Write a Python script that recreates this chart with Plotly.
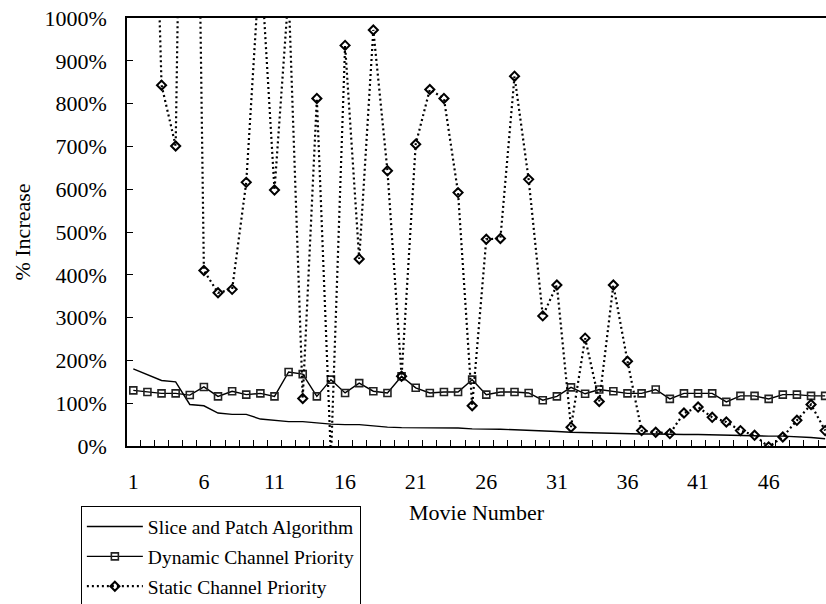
import plotly.graph_objects as go

movies = list(range(1, 51))
tick_labels = [1, 6, 11, 16, 21, 26, 31, 36, 41, 46]

slice_patch = [180, 167, 153, 150, 97, 94, 77, 74, 74, 63,
               60, 57, 57, 54, 51, 50, 50, 47, 44, 43,
               43, 43, 43, 42, 40, 40, 39, 38, 37, 36,
               34, 32, 31, 30, 30, 29, 28, 28, 27, 27,
               27, 26, 26, 25, 24, 23, 23, 22, 20, 17]

dynamic_priority = [130, 126, 123, 123, 119, 138, 116, 128, 120, 123,
                    116, 173, 168, 116, 155, 124, 147, 128, 124, 163,
                    136, 124, 126, 126, 155, 120, 126, 126, 124, 107,
                    116, 137, 122, 132, 128, 123, 123, 132, 110, 123,
                    123, 123, 103, 117, 117, 110, 120, 120, 117, 117]

static_priority = [1500, 2000, 843, 701, 2800, 410, 358, 366, 616, 1150,
                   598, 1060, 111, 812, -30, 936, 437, 972, 643, 163,
                   705, 833, 812, 592, 94, 483, 485, 864, 623, 304,
                   376, 44, 252, 104, 376, 198, 36, 32, 29, 77,
                   91, 67, 56, 36, 25, -2, 21, 60, 97, 36]

y_ticks = list(range(0, 1001, 100))
y_tick_text = [f"{v}%" for v in y_ticks]

FONT = "Liberation Serif, Times New Roman, serif"
FS = 22

fig = go.Figure()
fig.add_trace(go.Scatter(
    x=movies, y=slice_patch, mode="lines", name="Slice and Patch Algorithm",
    line=dict(color="black", width=1.4), legendgroup="a"))
fig.add_trace(go.Scatter(
    x=movies, y=dynamic_priority, mode="lines+markers", name="Dynamic Channel Priority",
    line=dict(color="black", width=1.4), legendgroup="b",
    marker=dict(symbol="square-open", size=7, color="#222", line=dict(width=1.6))))
fig.add_trace(go.Scatter(
    x=movies, y=static_priority, mode="lines+markers", name="Static Channel Priority",
    line=dict(color="black", width=2.2, dash="2px,3px"), legendgroup="c",
    marker=dict(symbol="diamond-open", size=7, color="black", line=dict(width=2))))

xr = [0.554, 50.06]
fig.update_layout(
    width=826, height=604,
    margin=dict(l=127, r=0, t=17.5, b=157.5, autoexpand=False),
    paper_bgcolor="white", plot_bgcolor="white",
    font=dict(family=FONT, size=FS, color="black"),
    showlegend=True,
    legend=dict(x=-0.066, y=-0.141, xanchor="left", yanchor="top",
                bgcolor="white", bordercolor="black", borderwidth=1,
                font=dict(family=FONT, size=19.5, color="black"),
                itemwidth=56, tracegroupgap=1.5),
    xaxis=dict(range=xr, showgrid=False, zeroline=False,
               showline=True, linecolor="black", linewidth=2, mirror=True,
               tickvals=[m + 0.5 for m in movies], ticks="inside", ticklen=6,
               tickcolor="black", tickwidth=1, showticklabels=False),
    xaxis2=dict(range=xr, overlaying="x", side="bottom", showgrid=False,
                zeroline=False, showline=False, tickvals=tick_labels,
                ticks="outside", ticklen=16, tickcolor="rgba(0,0,0,0)",
                tickfont=dict(family=FONT, size=FS, color="black"),
                title=dict(text="Movie Number", standoff=11,
                           font=dict(family=FONT, size=FS, color="black"))),
    yaxis=dict(range=[0, 1000], showgrid=False, zeroline=False,
               showline=True, linecolor="black", linewidth=1.5,
               tickvals=y_ticks, ticktext=y_tick_text, ticks="inside",
               ticklen=6, tickcolor="black", ticklabelstandoff=14,
               tickfont=dict(family=FONT, size=FS, color="black"),
               title=dict(text="% Increase", standoff=8,
                          font=dict(family=FONT, size=FS, color="black"))),
)
# invisible helper trace so that xaxis2 (the labelled axis) is rendered
fig.add_trace(go.Scatter(x=[1], y=[None], xaxis="x2", showlegend=False,
                         hoverinfo="skip", mode="markers"))

fig.write_html("out.html", config={"displayModeBar": False},
               post_script="document.body.style.margin='0';")
